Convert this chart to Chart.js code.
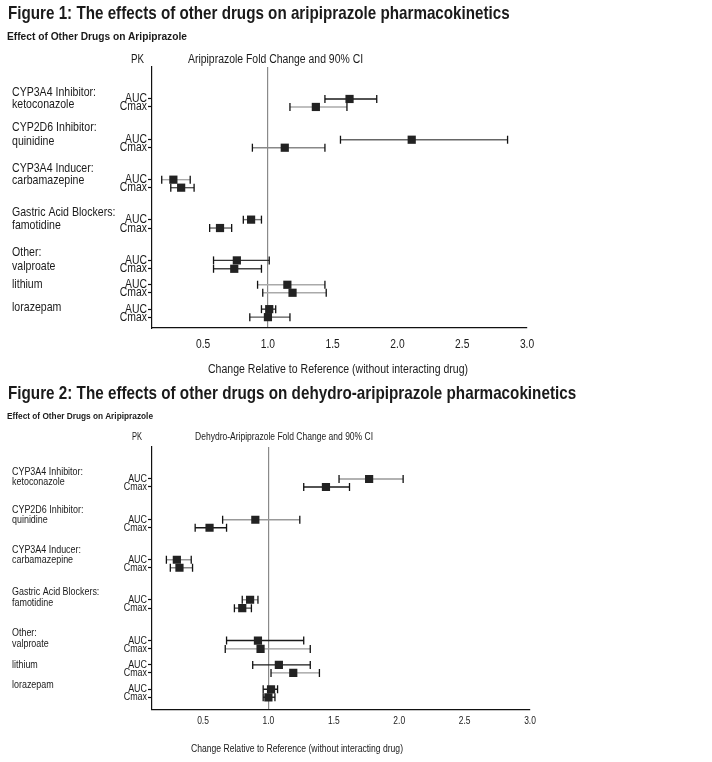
<!DOCTYPE html>
<html>
<head>
<meta charset="utf-8">
<title>Effects of other drugs on aripiprazole PK</title>
<script src="https://cdn.jsdelivr.net/npm/chart.js@4.4.1/dist/chart.umd.min.js"></script>
<style>
  body { margin: 0; background: #fff; width: 712px; height: 762px; position: relative; overflow: hidden;
         font-family: "Liberation Sans", Arial, sans-serif; color: #1a1a1a; }
  .fig { position: absolute; left: 0; width: 712px; }
  .t { position: absolute; white-space: nowrap; transform-origin: 0 50%; }
  .b { font-weight: bold; }
</style>
</head>
<body>
<div class="fig" style="top:0;height:380px"><canvas id="fig1"></canvas></div>
<div class="fig" style="top:380px;height:382px"><canvas id="fig2"></canvas></div>

<!-- data-w = width the text takes in the original (condensed face) -->
<div class="t b" data-w="502" style="left:8px;top:3px;font-size:19px;line-height:20px">Figure 1: The effects of other drugs on aripiprazole pharmacokinetics</div>
<div class="t b" data-w="180" style="left:7px;top:29px;font-size:11px;line-height:14px">Effect of Other Drugs on Aripiprazole</div>
<div class="t" data-w="13" style="left:131px;top:52px;font-size:12px;line-height:14px">PK</div>
<div class="t" data-w="175" style="left:188px;top:52px;font-size:12px;line-height:14px">Aripiprazole Fold Change and 90% CI</div>
<div class="t" data-w="260" style="left:208px;top:362px;font-size:12px;line-height:14px">Change Relative to Reference (without interacting drug)</div>

<div class="t b" data-w="568" style="left:8px;top:383px;font-size:19px;line-height:20px">Figure 2: The effects of other drugs on dehydro-aripiprazole pharmacokinetics</div>
<div class="t b" data-w="146" style="left:7px;top:410px;font-size:9px;line-height:12px">Effect of Other Drugs on Aripiprazole</div>
<div class="t" data-w="10" style="left:132px;top:431px;font-size:10px;line-height:12px">PK</div>
<div class="t" data-w="178" style="left:195px;top:431px;font-size:10px;line-height:12px">Dehydro-Aripiprazole Fold Change and 90% CI</div>
<div class="t" data-w="212" style="left:191px;top:743px;font-size:10px;line-height:12px">Change Relative to Reference (without interacting drug)</div>

<script>
// rows, top to bottom
const pkRows = ['AUC', 'Cmax', 'AUC', 'Cmax', 'AUC', 'Cmax', 'AUC', 'Cmax', 'AUC', 'Cmax', 'AUC', 'Cmax', 'AUC', 'Cmax'];
// row slot on the vertical axis (groups sit further apart than the AUC/Cmax pair)
const rowPos = [4, 5, 9.1, 10.1, 14.1, 15.1, 19.1, 20.15, 24.2, 25.25, 27.25, 28.25, 30.3, 31.3];
const groups = [
    ['CYP3A4 Inhibitor:', 'ketoconazole'],
    ['CYP2D6 Inhibitor:', 'quinidine'],
    ['CYP3A4 Inducer:', 'carbamazepine'],
    ['Gastric Acid Blockers:', 'famotidine'],
    ['Other:', 'valproate'],
    ['lithium'],
    ['lorazepam']
];
const xTicks = [0.5, 1.0, 1.5, 2.0, 2.5, 3.0];

// Figure 1: aripiprazole fold change and 90% CI
const aripEst = [1.63, 1.37, 2.11, 1.13, 0.27, 0.33, 0.87, 0.63, 0.76, 0.74, 1.15, 1.19, 1.01, 1.00];
const aripLo  = [1.44, 1.17, 1.56, 0.88, 0.18, 0.25, 0.81, 0.55, 0.58, 0.58, 0.92, 0.96, 0.95, 0.86];
const aripHi  = [1.84, 1.61, 2.85, 1.44, 0.40, 0.43, 0.95, 0.72, 1.01, 0.95, 1.44, 1.45, 1.06, 1.17];

// Figure 2: dehydro-aripiprazole fold change and 90% CI
const dehyEst = [1.77, 1.44, 0.90, 0.55, 0.30, 0.32, 0.86, 0.80, 0.92, 0.94, 1.08, 1.19, 1.02, 1.00];
const dehyLo  = [1.54, 1.27, 0.65, 0.44, 0.22, 0.25, 0.80, 0.74, 0.68, 0.67, 0.88, 1.02, 0.96, 0.96];
const dehyHi  = [2.03, 1.62, 1.24, 0.68, 0.41, 0.42, 0.92, 0.87, 1.27, 1.32, 1.32, 1.39, 1.07, 1.05];

const FONT = '"Liberation Sans", Arial, sans-serif';
const INK = '#1a1a1a';
const SQUEEZE = 0.82; // Arial -> Arial Narrow

// CI line shades as they come out in the scan
const aripBarColors = ['#1a1a1a', '#aaa', '#666', '#888', '#aaa', '#555', '#777', '#666', '#333', '#444', '#aaa', '#aaa', '#333', '#555'];
const dehyBarColors = ['#999', '#1a1a1a', '#999', '#1a1a1a', '#999', '#888', '#999', '#444', '#1a1a1a', '#999', '#1a1a1a', '#999', '#222', '#333'];

// squeeze the html captions to the width they have in the original
document.querySelectorAll('.t[data-w]').forEach(el => {
    const w = el.getBoundingClientRect().width;
    el.style.transform = 'scaleX(' + (el.dataset.w / w).toFixed(3) + ')';
});

function drawNarrow(ctx, txt, px, py) {
    ctx.save();
    ctx.translate(px, py);
    ctx.scale(SQUEEZE, 1);
    ctx.fillText(txt, 0, 0);
    ctx.restore();
}

// tick labels, PK row labels and drug groups in a narrow face
const narrowLabels = {
    id: 'narrowLabels',
    afterDraw(chart, args, opts) {
        const { ctx, scales: { x, y } } = chart;
        ctx.save();
        ctx.fillStyle = INK;
        ctx.textBaseline = 'middle';

        ctx.font = opts.tickSize + 'px ' + FONT;
        ctx.textAlign = 'center';
        xTicks.forEach(v => drawNarrow(ctx, v.toFixed(1), x.getPixelForValue(v), x.top + opts.tickDy));

        ctx.font = opts.rowSize + 'px ' + FONT;
        ctx.textAlign = 'right';
        rowPos.forEach((v, i) => drawNarrow(ctx, pkRows[i], y.right - 5, y.getPixelForValue(v)));

        ctx.font = opts.groupSize + 'px ' + FONT;
        ctx.textAlign = 'left';
        groups.forEach((lines, g) => {
            const yPix = y.getPixelForValue(rowPos[g * 2]);
            lines.forEach((txt, k) => drawNarrow(ctx, txt, 12, yPix + opts.groupDy[g][k]));
        });
        ctx.restore();
    }
};

function makeChart(id, est, lo, hi, barColors, cfg) {
    const datasets = est.map((_, i) => ({
        type: 'line',
        data: [{ x: lo[i], y: rowPos[i] }, { x: hi[i], y: rowPos[i] }],
        borderColor: barColors[i],
        borderWidth: 1.4,
        pointStyle: 'line',
        pointRotation: 90,
        pointRadius: 4,
        pointBorderColor: '#111',
        pointBorderWidth: 1.3,
        order: 2
    }));
    datasets.push({
        type: 'scatter',
        data: est.map((v, i) => ({ x: v, y: rowPos[i] })),
        pointStyle: 'rect',
        pointRadius: 5.8,
        backgroundColor: '#222',
        borderWidth: 0,
        order: 1
    });

    return new Chart(document.getElementById(id), {
        type: 'scatter',
        data: { datasets },
        options: {
            responsive: true,
            maintainAspectRatio: false,
            animation: false,
            events: [],
            layout: { padding: { top: cfg.top, right: cfg.right, left: 0, bottom: 0 } },
            plugins: {
                legend: { display: false },
                tooltip: { enabled: false },
                narrowLabels: cfg.labels
            },
            scales: {
                x: {
                    type: 'linear',
                    min: cfg.xMin,
                    max: 3.0,
                    afterBuildTicks: s => { s.ticks = xTicks.map(v => ({ value: v })); },
                    afterFit: s => { s.height = cfg.xHeight; },
                    grid: {
                        drawTicks: false,
                        lineWidth: 1.2,
                        color: c => (c.tick && c.tick.value === 1) ? '#8a8a8a' : 'rgba(0,0,0,0)'
                    },
                    border: { color: '#111', width: 1.2 },
                    ticks: { display: false }
                },
                y: {
                    type: 'linear',
                    reverse: true,
                    min: 0,
                    max: cfg.yMax,
                    afterBuildTicks: s => { s.ticks = rowPos.map(v => ({ value: v })); },
                    afterFit: s => { s.width = 152; },
                    grid: { drawOnChartArea: false, drawTicks: true, tickLength: 4, tickColor: '#111', tickWidth: 1.2 },
                    border: { color: '#111', width: 1.2 },
                    ticks: { display: false }
                }
            }
        },
        plugins: [narrowLabels]
    });
}

makeChart('fig1', aripEst, aripLo, aripHi, aripBarColors, {
    top: 67, right: 185, xMin: 0.105, xHeight: 52, yMax: 32.66,
    labels: {
        tickSize: 12.5, tickDy: 17, rowSize: 12.7, groupSize: 12.9,
        groupDy: [[-6.6, 5.7], [-12.4, 1.3], [-11.7, 1], [-6.7, 5.7], [-8.4, 6], [-0.4], [-2]]
    }
});

makeChart('fig2', dehyEst, dehyLo, dehyHi, dehyBarColors, {
    top: 67, right: 182, xMin: 0.11, xHeight: 52.7, yMax: 32.8,
    labels: {
        tickSize: 10.3, tickDy: 12.2, rowSize: 10.9, groupSize: 10.9,
        groupDy: [[-7.3, 3.3], [-9.7, 0.3], [-10, 0], [-7.3, 3.3], [-7.4, 3.6], [0], [-4.3]]
    }
});
</script>
</body>
</html>
